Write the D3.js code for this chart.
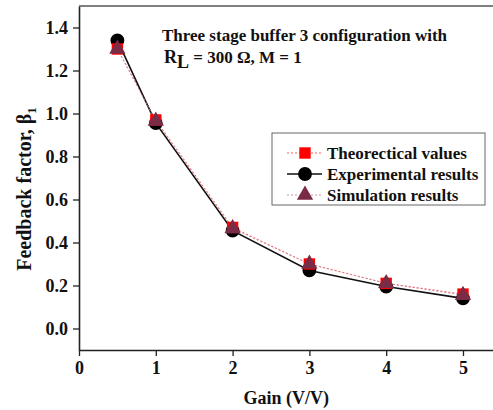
<!DOCTYPE html>
<html>
<head>
<meta charset="utf-8">
<script src="https://cdn.jsdelivr.net/npm/d3@7"></script>
<style>
  html, body { margin: 0; padding: 0; background: #fff; }
  svg { display: block; font-family: "Liberation Serif", "Times New Roman", serif; font-weight: bold; }
</style>
</head>
<body>
<svg id="chart" width="493" height="410"></svg>
<script>
// Gain (V/V) at which the feedback factor was evaluated
const gains = [0.5, 1, 2, 3, 4, 5];
// Feedback factor β1 for each source
const theoretical = [1.30, 0.97, 0.47, 0.30, 0.21, 0.16];
const experimental = [1.34, 0.955, 0.455, 0.27, 0.195, 0.14];
const simulation = [1.30, 0.965, 0.465, 0.30, 0.21, 0.155];

const xTicks = [0, 1, 2, 3, 4, 5];
const xMinor = [0.5, 1.5, 2.5, 3.5, 4.5];
const yTicks = [0.0, 0.2, 0.4, 0.6, 0.8, 1.0, 1.2, 1.4];
const yMinor = [-0.1, 0.1, 0.3, 0.5, 0.7, 0.9, 1.1, 1.3];

const legendLabels = ["Theorectical values", "Experimental results", "Simulation results"];

const svg = d3.select("#chart");
const plotLeft = 79, plotBottom = 350, plotTop = 6, plotRight = 493.7;

const x = d3.scaleLinear().domain([0, 5.4]).range([plotLeft, plotRight]);
const y = d3.scaleLinear().domain([-0.1, 1.5]).range([plotBottom, plotTop]);

const axisColor = "#222";

// Axes with minor ticks
const gx = svg.append("g").attr("transform", `translate(0,${plotBottom})`);
gx.call(d3.axisBottom(x).tickValues(xMinor).tickSize(4).tickSizeOuter(0).tickFormat(""));
gx.call(d3.axisBottom(x).tickValues(xTicks).tickSize(6).tickSizeOuter(0).tickFormat(d3.format("d")).tickPadding(5));
gx.selectAll("text").attr("font-size", 18).attr("fill", "#111").attr("font-family", "Liberation Serif, serif").attr("font-weight", "bold");

const gy = svg.append("g").attr("transform", `translate(${plotLeft},0)`);
gy.call(d3.axisLeft(y).tickValues(yMinor).tickSize(4).tickSizeOuter(0).tickFormat(""));
gy.call(d3.axisLeft(y).tickValues(yTicks).tickSize(6).tickSizeOuter(0).tickFormat(d3.format(".1f")).tickPadding(5));
gy.selectAll("text").attr("font-size", 18).attr("fill", "#111").attr("font-family", "Liberation Serif, serif").attr("font-weight", "bold");

svg.selectAll(".domain").attr("stroke", axisColor).attr("stroke-width", 1.6);
svg.selectAll(".tick line").attr("stroke", axisColor).attr("stroke-width", 1.3);

// Top frame line
svg.append("line")
  .attr("x1", plotLeft).attr("x2", plotRight)
  .attr("y1", y(1.5)).attr("y2", y(1.5))
  .attr("stroke", "#555").attr("stroke-width", 1.6);

// Series
const series = [
  { vals: theoretical, line: "#ff4d4d", width: 0.9, dash: "2,2", fill: "#ff0000", shape: "square" },
  { vals: experimental, line: "#111", width: 1.6, dash: null, fill: "#000", shape: "circle" },
  { vals: simulation, line: "#c98a9a", width: 0.9, dash: "2,2", fill: "#7a2b46", shape: "triangle" }
];

const lineGen = vals => d3.line().x((d, i) => x(gains[i])).y(d => y(d))(vals);

series.forEach(s => {
  svg.append("path")
    .attr("d", lineGen(s.vals))
    .attr("fill", "none")
    .attr("stroke", s.line)
    .attr("stroke-width", s.width)
    .attr("stroke-dasharray", s.dash);
});

const symbolFor = {
  square: d3.symbol().type(d3.symbolSquare).size(130),
  circle: d3.symbol().type(d3.symbolCircle).size(150),
  triangle: d3.symbol().type(d3.symbolTriangle).size(115)
};

// Marker draw order: circles, squares, triangles
[1, 0, 2].forEach(k => {
  const s = series[k];
  svg.append("g").selectAll("path")
    .data(s.vals)
    .join("path")
    .attr("transform", (d, i) => `translate(${x(gains[i])},${y(d)})`)
    .attr("d", symbolFor[s.shape]())
    .attr("fill", s.fill);
});

// Annotation
const ann = svg.append("text").attr("x", 162).attr("y", 41).attr("font-size", 17).attr("fill", "#111");
ann.text("Three stage buffer 3 configuration with");
const ann2 = svg.append("text").attr("x", 164).attr("y", 63).attr("font-size", 18).attr("fill", "#111");
ann2.append("tspan").text("R");
ann2.append("tspan").attr("dy", 5).attr("font-size", 18).text("L");
ann2.append("tspan").attr("dy", -5).attr("font-size", 17).text(" = 300 Ω, M = 1");

// Legend
const lg = svg.append("g");
lg.append("rect")
  .attr("x", 272).attr("y", 133).attr("width", 213).attr("height", 72)
  .attr("fill", "#fff").attr("stroke", "#666").attr("stroke-width", 1);

const legendY = [153, 174, 195];
series.forEach((s, i) => {
  lg.append("line")
    .attr("x1", 287).attr("x2", 322)
    .attr("y1", legendY[i]).attr("y2", legendY[i])
    .attr("stroke", s.line)
    .attr("stroke-width", s.width)
    .attr("stroke-dasharray", s.dash);
  lg.append("path")
    .attr("transform", `translate(305,${legendY[i]})`)
    .attr("d", symbolFor[s.shape]())
    .attr("fill", s.fill);
  lg.append("text")
    .attr("x", 327).attr("y", legendY[i] + 6)
    .attr("font-size", 17).attr("fill", "#111")
    .text(legendLabels[i]);
});

// Axis titles
svg.append("text")
  .attr("x", x(2.7)).attr("y", 404)
  .attr("text-anchor", "middle").attr("font-size", 18).attr("fill", "#111")
  .text("Gain (V/V)");

const yl = svg.append("text")
  .attr("transform", `translate(31,${(273 + 105) / 2}) rotate(-90)`)
  .attr("text-anchor", "middle").attr("font-size", 20).attr("fill", "#111");
yl.append("tspan").text("Feedback factor, β");
yl.append("tspan").attr("dy", 5).attr("font-size", 13).text("1");
</script>
</body>
</html>
